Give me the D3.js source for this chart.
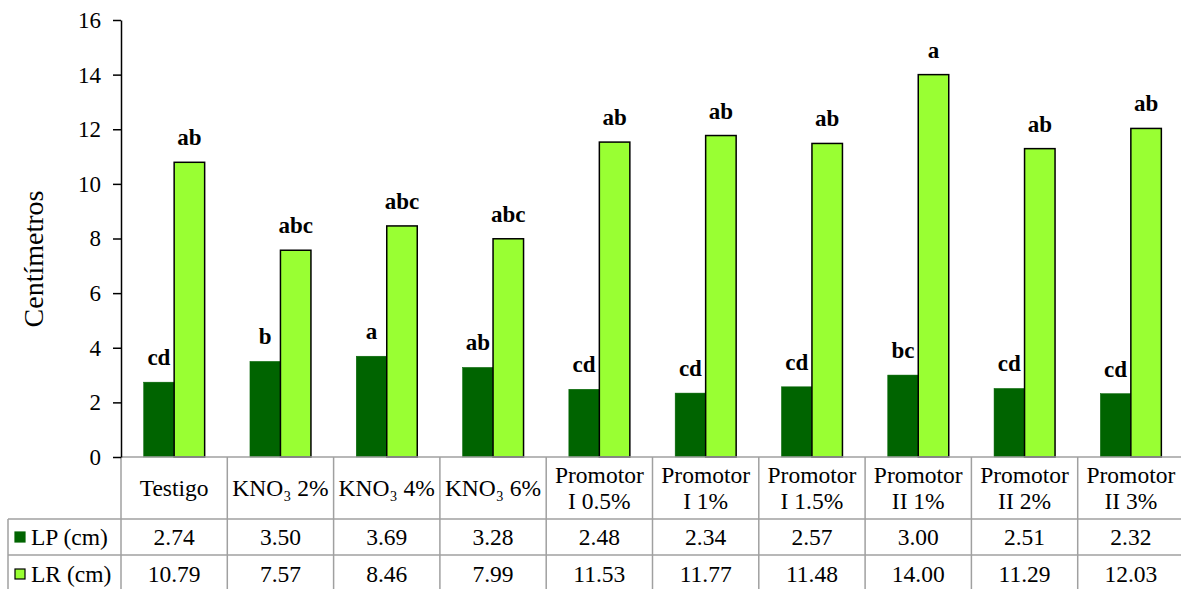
<!DOCTYPE html>
<html><head><meta charset="utf-8">
<script src="https://cdn.jsdelivr.net/npm/d3@7"></script>
<style>body{margin:0;background:#fff}svg{display:block}</style>
</head><body><svg id="c" width="1181" height="589" font-family="Liberation Serif"></svg>
<script>
const categories = [["Testigo"],["KNO₃ 2%"],["KNO₃ 4%"],["KNO₃ 6%"],["Promotor","I 0.5%"],["Promotor","I 1%"],["Promotor","I 1.5%"],["Promotor","II 1%"],["Promotor","II 2%"],["Promotor","II 3%"]];
const lpValues = [2.74,3.50,3.69,3.28,2.48,2.34,2.57,3.00,2.51,2.32];
const lrValues = [10.79,7.57,8.46,7.99,11.53,11.77,11.48,14.00,11.29,12.03];
const lpLetters = ["cd","b","a","ab","cd","cd","cd","bc","cd","cd"];
const lrLetters = ["ab","abc","abc","abc","ab","ab","ab","a","ab","ab"];
const seriesNames = ["LP (cm)","LR (cm)"];
const yTicks = [0,2,4,6,8,10,12,14,16];

(function(){
const FF = "Liberation Serif";
const colors = ["#006400","#99FF33"];
const svg = d3.select("#c");
const left = 121, bandW = 106.3, plotTop = 20, base = 457;
const idx = categories.map((d,i)=>i);
const x = d3.scaleBand().domain(idx).range([left, left + bandW*categories.length]).padding(0);
const y = d3.scaleLinear().domain([0,16]).range([base, plotTop]);
const inner = d3.scaleBand().domain([0,1]).range([-30.5,30.5]);

const series = [lpValues, lrValues];
const letters = [lpLetters, lrLetters];
series.forEach((vals,s)=>{
  const g = svg.append("g");
  g.selectAll("rect").data(vals).join("rect")
    .attr("x",(d,i)=>x(i)+x.bandwidth()/2+inner(s))
    .attr("width",inner.bandwidth())
    .attr("y",d=>y(d)).attr("height",d=>base-y(d))
    .attr("fill",colors[s])
    .attr("stroke", s===1 ? "#000" : colors[s]).attr("stroke-width", s===1?1.5:0.5);
  g.selectAll("text").data(vals).join("text")
    .attr("x",(d,i)=>x(i)+x.bandwidth()/2+inner(s)+inner.bandwidth()/2)
    .attr("y",d=>y(d)-17)
    .attr("text-anchor","middle").attr("font-weight","bold").attr("font-size",23).attr("font-family",FF)
    .text((d,i)=>letters[s][i]);
});

const gray = "#a0a0a0";
const rowTops = [base, 519, 555, 592];
const right = left + bandW*categories.length;
const tg = svg.append("g").attr("stroke",gray).attr("stroke-width",1.5);
tg.append("line").attr("x1",left).attr("x2",right).attr("y1",rowTops[0]).attr("y2",rowTops[0]);
[1,2].forEach(r=>tg.append("line").attr("x1",8).attr("x2",right).attr("y1",rowTops[r]).attr("y2",rowTops[r]));
tg.append("line").attr("x1",8).attr("x2",8).attr("y1",rowTops[1]).attr("y2",rowTops[3]);
idx.concat([categories.length]).forEach(i=>{
  const xx = left + bandW*i;
  tg.append("line").attr("x1",xx).attr("x2",xx).attr("y1",rowTops[0]).attr("y2",rowTops[3]);
});
const ht = svg.append("g").attr("font-size",23.5).attr("font-family",FF).attr("text-anchor","middle").attr("fill","#000");
categories.forEach((c,i)=>{
  const cx = x(i)+x.bandwidth()/2;
  if (c.length===1) ht.append("text").attr("x",cx).attr("y",496).text(c[0]);
  else {
    ht.append("text").attr("x",cx).attr("y",483).text(c[0]);
    ht.append("text").attr("x",cx).attr("y",509).text(c[1]);
  }
});
const rowBase = [545, 582];
series.forEach((vals,s)=>{
  const ry = rowBase[s];
  svg.append("g").selectAll("text").data(vals).join("text")
    .attr("x",(d,i)=>x(i)+x.bandwidth()/2).attr("y",ry)
    .attr("text-anchor","middle").attr("font-size",23.5).attr("font-family",FF)
    .text(d=>d.toFixed(2));
  svg.append("rect").attr("x",15).attr("y",ry-13).attr("width",10).attr("height",10)
    .attr("fill",colors[s]).attr("stroke", s===1?"#000":colors[s]).attr("stroke-width",1.2);
  svg.append("text").attr("x",31).attr("y",ry).attr("font-size",23.5).attr("font-family",FF).text(seriesNames[s]);
});

const ya = svg.append("g").attr("transform",`translate(${left},0)`)
  .call(d3.axisLeft(y).tickValues(yTicks).tickSize(8).tickSizeOuter(0).tickPadding(12));
ya.attr("font-family",FF);
ya.select(".domain").attr("stroke","#000").attr("stroke-width",1.5);
ya.selectAll(".tick line").attr("stroke","#000").attr("stroke-width",1.5);
ya.selectAll(".tick text").attr("font-size",23).attr("font-family",FF).attr("fill","#000");

svg.append("text").attr("transform","translate(43,259) rotate(-90)")
  .attr("text-anchor","middle").attr("font-size",28).attr("font-family",FF).text("Centímetros");
})();
</script></body></html>
